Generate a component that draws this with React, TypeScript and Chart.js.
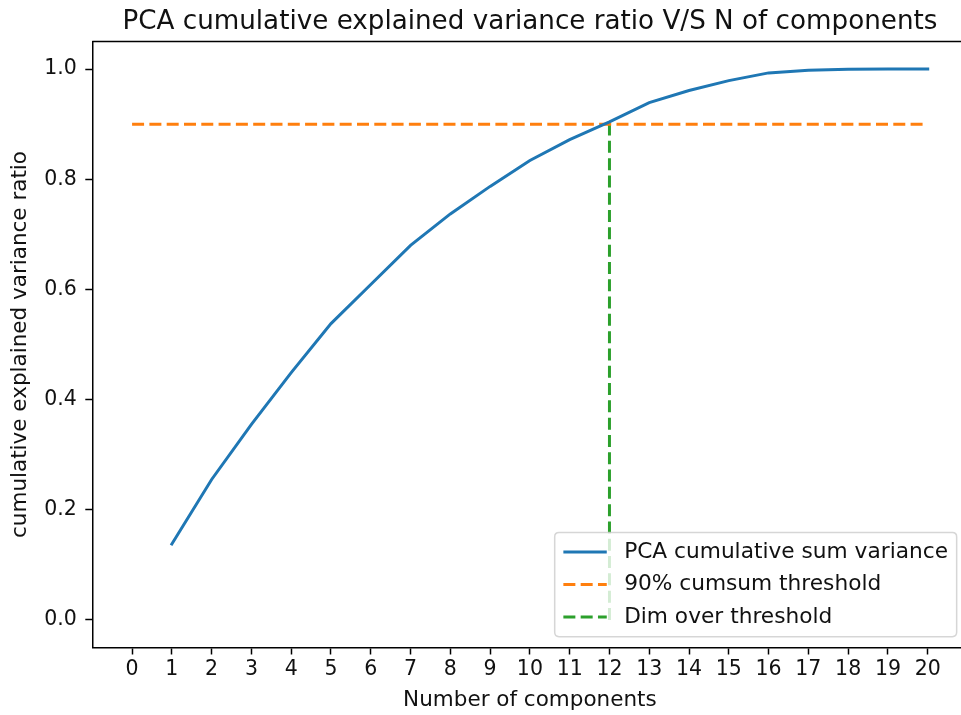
import React, { useEffect, useRef } from "react";
import { Chart, registerables } from "chart.js";

Chart.register(...registerables);

// ---- data ----
const components = [1, 2, 3, 4, 5, 6, 7, 8, 9, 10, 11, 12, 13, 14, 15, 16, 17, 18, 19, 20];
const cumulativeVariance = [
  0.138, 0.255, 0.355, 0.449, 0.538, 0.609, 0.68, 0.737, 0.787, 0.834,
  0.872, 0.904, 0.939, 0.961, 0.979, 0.993, 0.998, 0.9995, 1.0, 1.0,
];
const thresholdX = [0, 20];
const thresholdY = [0.9, 0.9];
const dimX = [12, 12];
const dimY = [0, 0.9];
const xTicks = [0, 1, 2, 3, 4, 5, 6, 7, 8, 9, 10, 11, 12, 13, 14, 15, 16, 17, 18, 19, 20];
const yTicks = [0, 0.2, 0.4, 0.6, 0.8, 1.0];
const seriesLabels = ["PCA cumulative sum variance", "90% cumsum threshold", "Dim over threshold"];
const titleText = "PCA cumulative explained variance ratio V/S N of components";
const xLabel = "Number of components";
const yLabel = "cumulative explained variance ratio";

const FONT = '"DejaVu Sans", "Liberation Sans", sans-serif';
const TICK_FS = 20.5;
const LABEL_FS = 21.5;
const LEGEND_FS = 21.7;
const TITLE_FS = 26.2;
const TEXT = "#111";
const BLUE = "#1f77b4";
const ORANGE = "#ff7f0e";
const GREEN = "#2ca02c";
const DASH = [12, 5.3];

const toPoints = (xs: number[], ys: number[]) => xs.map((x, i) => ({ x, y: ys[i] }));

const framePlugin = {
  id: "mplFrame",
  afterDatasetsDraw(chart: any) {
    const { ctx, chartArea } = chart;
    ctx.save();
    ctx.strokeStyle = "#000";
    ctx.lineWidth = 1.5;
    ctx.beginPath();
    ctx.moveTo(chartArea.left, chartArea.top);
    ctx.lineTo(chartArea.right, chartArea.top);
    ctx.lineTo(chartArea.right, chartArea.bottom);
    ctx.stroke();
    ctx.restore();
  },
};

const legendPlugin = {
  id: "mplLegend",
  afterDatasetsDraw(chart: any) {
    const { ctx, chartArea } = chart;
    const items = chart.data.datasets;
    const FS = LEGEND_FS;
    ctx.save();
    ctx.font = `${FS}px ${FONT}`;
    const textW = Math.max(...items.map((d: any) => ctx.measureText(d.label).width));
    const pad = 0.4 * FS;
    const handleLen = 2 * FS;
    const handlePad = 0.8 * FS;
    const rowH = 1.0 * FS;
    const spacing = 0.5 * FS;
    const w = 2 * pad + handleLen + handlePad + textW;
    const h = 2 * pad + items.length * rowH + (items.length - 1) * spacing;
    const right = chartArea.right - 0.5 * FS;
    const bottom = chartArea.bottom - 0.5 * FS;
    const left = right - w;
    const top = bottom - h;
    const r = 0.2 * FS;
    ctx.beginPath();
    ctx.moveTo(left + r, top);
    ctx.lineTo(right - r, top);
    ctx.quadraticCurveTo(right, top, right, top + r);
    ctx.lineTo(right, bottom - r);
    ctx.quadraticCurveTo(right, bottom, right - r, bottom);
    ctx.lineTo(left + r, bottom);
    ctx.quadraticCurveTo(left, bottom, left, bottom - r);
    ctx.lineTo(left, top + r);
    ctx.quadraticCurveTo(left, top, left + r, top);
    ctx.closePath();
    ctx.fillStyle = "rgba(255,255,255,0.8)";
    ctx.fill();
    ctx.strokeStyle = "rgba(204,204,204,0.8)";
    ctx.lineWidth = 1.5;
    ctx.stroke();
    items.forEach((d: any, i: number) => {
      const cy = top + pad + rowH * (i + 0.5) + spacing * i;
      ctx.beginPath();
      ctx.setLineDash(d.borderDash || []);
      ctx.strokeStyle = d.borderColor;
      ctx.lineWidth = d.borderWidth;
      ctx.lineCap = "butt";
      ctx.moveTo(left + pad, cy);
      ctx.lineTo(left + pad + handleLen, cy);
      ctx.stroke();
      ctx.setLineDash([]);
      ctx.fillStyle = TEXT;
      ctx.textAlign = "left";
      ctx.textBaseline = "middle";
      ctx.fillText(d.label, left + pad + handleLen + handlePad, cy);
    });
    ctx.restore();
  },
};

const titlePlugin = {
  id: "mplTitle",
  afterDraw(chart: any) {
    const { ctx, chartArea } = chart;
    ctx.save();
    ctx.font = `${TITLE_FS}px ${FONT}`;
    ctx.fillStyle = TEXT;
    ctx.textAlign = "center";
    ctx.textBaseline = "alphabetic";
    ctx.fillText(titleText, (chartArea.left + chartArea.right) / 2, chartArea.top - 13);
    ctx.restore();
  },
};

export default function App() {
  const canvasRef = useRef<HTMLCanvasElement | null>(null);

  useEffect(() => {
    if (!canvasRef.current) return;
    const chart = new Chart(canvasRef.current, {
      type: "line",
      data: {
        datasets: [
          {
            label: seriesLabels[0],
            data: toPoints(components, cumulativeVariance),
            borderColor: BLUE,
            backgroundColor: BLUE,
            borderWidth: 3,
            pointRadius: 0,
            tension: 0,
            borderCapStyle: "square",
          },
          {
            label: seriesLabels[1],
            data: toPoints(thresholdX, thresholdY),
            borderColor: ORANGE,
            backgroundColor: ORANGE,
            borderWidth: 3,
            borderDash: DASH,
            pointRadius: 0,
          },
          {
            label: seriesLabels[2],
            data: toPoints(dimX, dimY),
            borderColor: GREEN,
            backgroundColor: GREEN,
            borderWidth: 3,
            borderDash: DASH,
            pointRadius: 0,
          },
        ],
      },
      options: {
        animation: false,
        responsive: false,
        devicePixelRatio: 1,
        layout: { padding: { top: 41.5, left: 0, right: 8.5, bottom: 0 } },
        plugins: {
          legend: { display: false },
          title: { display: false },
          tooltip: { enabled: false },
        },
        scales: {
          x: {
            type: "linear",
            min: -1,
            max: 21,
            afterBuildTicks: (s: any) => {
              s.ticks = xTicks.map((v) => ({ value: v }));
            },
            afterFit: (s: any) => {
              s.height = 67.5;
            },
            ticks: {
              autoSkip: false,
              maxRotation: 0,
              padding: 3,
              color: TEXT,
              font: { family: FONT, size: TICK_FS },
              callback: (v: any) => String(v),
            },
            grid: {
              drawOnChartArea: false,
              drawTicks: true,
              tickLength: 7,
              tickColor: "#000",
              tickWidth: 1.5,
            },
            border: { display: true, color: "#000", width: 1.5 },
            title: {
              display: true,
              text: xLabel,
              color: TEXT,
              font: { family: FONT, size: LABEL_FS },
              padding: { top: 0, bottom: 1.5 },
            },
          },
          y: {
            type: "linear",
            min: -0.05,
            max: 1.05,
            afterBuildTicks: (s: any) => {
              s.ticks = yTicks.map((v) => ({ value: v }));
            },
            afterFit: (s: any) => {
              s.width = 92.3;
            },
            ticks: {
              autoSkip: false,
              padding: 8.5,
              color: TEXT,
              font: { family: FONT, size: TICK_FS },
              callback: (v: any) => Number(v).toFixed(1),
            },
            grid: {
              drawOnChartArea: false,
              drawTicks: true,
              tickLength: 7,
              tickColor: "#000",
              tickWidth: 1.5,
            },
            border: { display: true, color: "#000", width: 1.5 },
            title: {
              display: true,
              text: yLabel,
              color: TEXT,
              font: { family: FONT, size: LABEL_FS },
              padding: { top: 7.5, bottom: 0 },
            },
          },
        },
      },
      plugins: [framePlugin, legendPlugin, titlePlugin],
    } as any);
    return () => chart.destroy();
  }, []);

  return (
    <div
      style={{
        position: "absolute",
        left: 0,
        top: 0,
        width: 961,
        height: 715,
        overflow: "hidden",
        background: "#fff",
      }}
    >
      <canvas ref={canvasRef} width={976} height={715} style={{ display: "block" }} />
    </div>
  );
}
